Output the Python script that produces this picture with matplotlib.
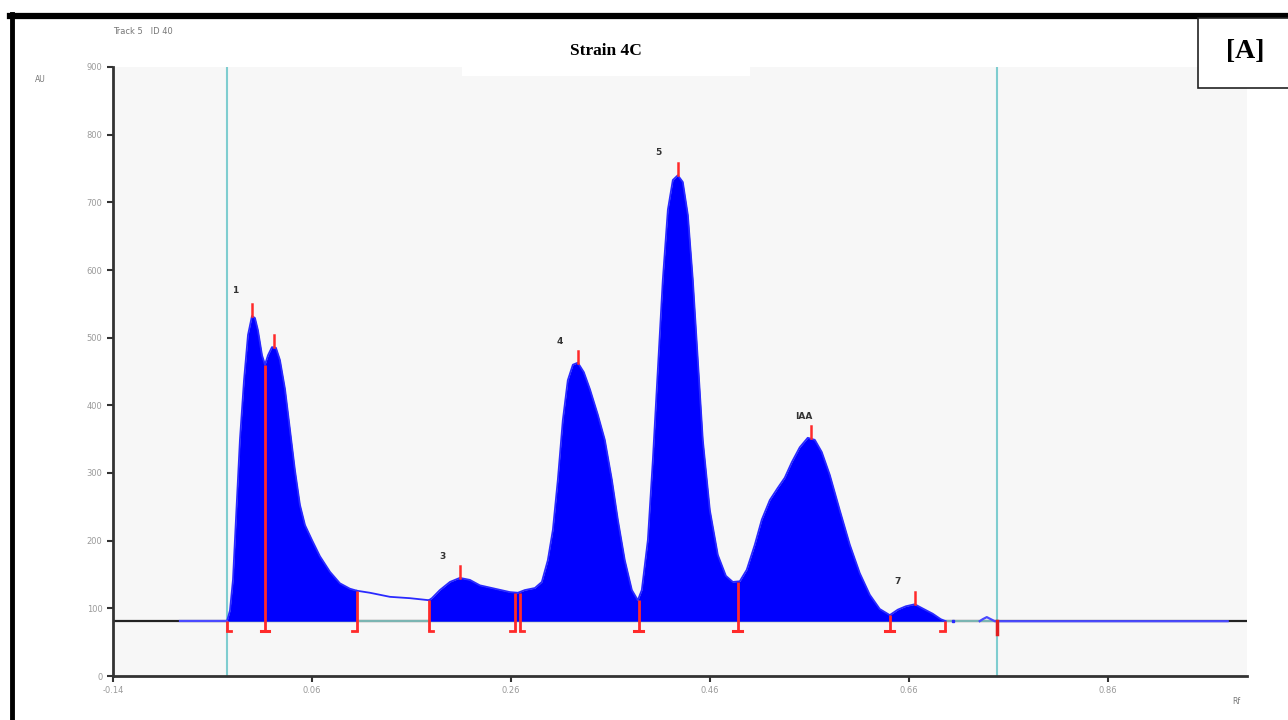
import matplotlib
matplotlib.use("Agg")
import matplotlib.pyplot as plt
from matplotlib.lines import Line2D
from matplotlib.patches import Rectangle
import numpy as np

# ---------------- data ----------------
baseline = 81

# densitometric trace (Rf, AU) for the filled peak region 1 and 2
rf_a = [-0.0254, -0.0224, -0.0194, -0.0164, -0.0124, -0.0083, -0.0043, -0.0003,
        0.0027, 0.0057, 0.0098, 0.0128, 0.0158, 0.0198, 0.0238, 0.0278, 0.0329,
        0.0379, 0.0429, 0.0479, 0.0530, 0.0600, 0.0680, 0.0781, 0.0881, 0.0982,
        0.1052]
au_a = [81, 97, 142, 231, 349, 437, 504, 532,
        529, 511, 474, 460, 474, 486, 485, 467, 424,
        364, 304, 253, 223, 201, 177, 154, 137, 129,
        126]

# unfilled segment between peak groups
rf_gap = [0.1052, 0.1183, 0.1384, 0.1585, 0.1776]
au_gap = [126, 123, 117, 115, 112]

# filled region with peaks 3, 4, 5, IAA and 7
rf_b = [0.1776, 0.1806, 0.1886, 0.1987, 0.2087, 0.2188, 0.2288, 0.2439, 0.2590,
        0.2670, 0.2740, 0.2841, 0.2911, 0.2971, 0.3022, 0.3072, 0.3122, 0.3172,
        0.3223, 0.3273, 0.3333, 0.3394, 0.3474, 0.3544, 0.3615, 0.3675, 0.3745,
        0.3816, 0.3876, 0.3916, 0.3977, 0.4027, 0.4077, 0.4127, 0.4178, 0.4228,
        0.4278, 0.4328, 0.4379, 0.4429, 0.4479, 0.4529, 0.4600, 0.4680, 0.4761,
        0.4831, 0.4901, 0.4971, 0.5052, 0.5122, 0.5203, 0.5283, 0.5353, 0.5424,
        0.5504, 0.5584, 0.5655, 0.5725, 0.5806, 0.5906, 0.6007, 0.6107, 0.6208,
        0.6308, 0.6409, 0.6489, 0.6569, 0.6660, 0.6750, 0.6841, 0.6921, 0.6971]
au_b = [112, 115, 127, 139, 145, 142, 134, 129, 124,
        123, 127, 130, 139, 171, 216, 290, 378, 437,
        460, 463, 449, 424, 386, 349, 290, 231, 171,
        127, 112, 127, 201, 319, 452, 585, 689, 733,
        740, 730, 681, 585, 467, 349, 245, 179, 148,
        139, 140, 157, 194, 231, 260, 278, 293, 316,
        338, 352, 349, 331, 297, 245, 194, 152, 120,
        99, 90, 98, 103, 106, 99, 92, 84, 81]

# trace after the last peak (with small bump)
rf_tail = [0.7313, 0.7344, 0.7384, 0.7424, 0.7464, 0.9806]
au_tail = [81, 84, 87, 84, 81, 81]
rf_lead = [-0.0727, -0.0254]

# peak apex positions, heights, labels
peak_rf = [-0.0003, 0.0218, 0.2087, 0.3273, 0.4278, 0.5614, 0.6660]
peak_au = [532, 486, 145, 463, 740, 352, 106]
label_txt = ["1", "3", "4", "5", "IAA", "7"]
label_rf = [-0.0174, 0.1917, 0.3090, 0.4078, 0.5544, 0.6489]
label_au = [569, 177, 495, 774, 383, 140]

# peak boundaries: position, trace height, foot style
bnd_rf = [-0.0254, 0.0128, 0.1052, 0.1776, 0.2640, 0.2690, 0.3886, 0.4881, 0.6409, 0.6961]
bnd_au = [81, 460, 126, 112, 123, 123, 112, 139, 90, 81]
bnd_foot = ["R", "T", "L", "R", "L", "R", "T", "T", "T", "L"]

front_rf = [-0.0254, 0.7484]   # application / front lines

xticks = [-0.14, 0.06, 0.26, 0.46, 0.66, 0.86]
yticks = [0, 100, 200, 300, 400, 500, 600, 700, 800, 900]

# ---------------- figure ----------------
fig = plt.figure(figsize=(12.88, 7.2), dpi=100)
fig.patch.set_facecolor("white")
ax = fig.add_axes([113/1288, 44/720, (1247-113)/1288, (676-67)/720])
ax.set_facecolor("#f7f7f7")
ax.set_xlim(-0.14, 1.0)
ax.set_ylim(0, 900)

for s in ["top", "right"]:
    ax.spines[s].set_visible(False)
for s in ["left", "bottom"]:
    ax.spines[s].set_color("#333333")
    ax.spines[s].set_linewidth(2)

ax.set_xticks(xticks)
ax.set_xticklabels([f"{v:.2f}" for v in xticks])
ax.set_yticks(yticks)
ax.set_yticklabels([str(v) for v in yticks])
ax.tick_params(axis="both", colors="#333333", labelcolor="#9a9a9a",
               labelsize=6, length=4, width=1.5, direction="out")

# application / front lines
for xr in front_rf:
    ax.axvline(xr, color="#7fcdd0", lw=1.5, zorder=1)

# baselines
ax.axhline(baseline, color="#222222", lw=1.6, zorder=2)
ax.plot(front_rf, [baseline, baseline], color="#8ed3cf", lw=1.2, zorder=2.5)

# filled peaks
ax.fill_between(rf_a, au_a, baseline, color="#0000ff", lw=0, zorder=3)
ax.fill_between(rf_b, au_b, baseline, color="#0000ff", lw=0, zorder=3)
trace_kw = dict(color="#2a2aff", lw=1.3, zorder=4)
ax.plot(rf_a, au_a, **trace_kw)
ax.plot(rf_gap, au_gap, **trace_kw)
ax.plot(rf_b, au_b, **trace_kw)
ax.plot(rf_tail, au_tail, color="#4a4aff", lw=1.6, zorder=4)
ax.plot(rf_lead, [baseline, baseline], color="#4a4aff", lw=1.6, zorder=4)
ax.plot([0.7040], [baseline + 1], marker="s", ms=2, color="#2a2aff", zorder=4)

# red boundary markers
red = "#ff2a2a"
foot_bottom = 66
fw = 0.0045
for xr, top, ft in zip(bnd_rf, bnd_au, bnd_foot):
    ax.plot([xr, xr], [top, foot_bottom], color=red, lw=2, zorder=5,
            solid_capstyle="butt")
    if ft == "T":
        ax.plot([xr - fw, xr + fw], [foot_bottom, foot_bottom], color=red, lw=2.2, zorder=5)
    elif ft == "R":
        ax.plot([xr, xr + fw], [foot_bottom, foot_bottom], color=red, lw=2, zorder=5)
    else:
        ax.plot([xr - fw, xr], [foot_bottom, foot_bottom], color=red, lw=2, zorder=5)
ax.plot([front_rf[1], front_rf[1]], [baseline, 62], color="#e02020", lw=2.5, zorder=5)

# red apex ticks
for xr, h in zip(peak_rf, peak_au):
    ax.plot([xr, xr], [h, h + 18], color=red, lw=1.8, zorder=5)

# peak labels
for t, xr, yv in zip(label_txt, label_rf, label_au):
    ax.text(xr, yv, t, fontsize=6.5, color="#333333", ha="center", va="center",
            fontweight="bold", zorder=6)

# small annotations
fig.text(113/1288, 1 - 31/720, "Track 5   ID 40", fontsize=6, color="#777777",
         ha="left", va="center")
fig.text(40/1288, 1 - 80/720, "AU", fontsize=5.5, color="#777777", ha="center", va="center")
fig.text(1236/1288, 1 - 702/720, "Rf", fontsize=5.5, color="#777777", ha="center", va="center")

# title box
fig.patches.append(Rectangle((462/1288, 1 - 76/720), (750-462)/1288, (76-27)/720,
                             transform=fig.transFigure, facecolor="white",
                             edgecolor="none", zorder=5))
fig.text(606/1288, 1 - 51/720, "Strain 4C", fontsize=12.5, fontweight="bold",
         family="Liberation Serif", ha="center", va="center", zorder=6)

# [A] box
fig.patches.append(Rectangle((1198/1288, 1 - 88/720), 100/1288, (88-18)/720,
                             transform=fig.transFigure, facecolor="white",
                             edgecolor="#222222", lw=1.2, zorder=5))
fig.text(1245/1288, 1 - 52/720, "[A]", fontsize=20, fontweight="bold",
         family="Liberation Serif", ha="center", va="center", zorder=6)

# outer black frame (top and left)
fig.lines.append(Line2D([10/1288, 1.0], [1 - 16/720, 1 - 16/720],
                        transform=fig.transFigure, color="black", lw=4.5))
fig.lines.append(Line2D([12/1288, 12/1288], [0, 1 - 14/720],
                        transform=fig.transFigure, color="black", lw=3.5))

fig.savefig("out.png", dpi=100)
